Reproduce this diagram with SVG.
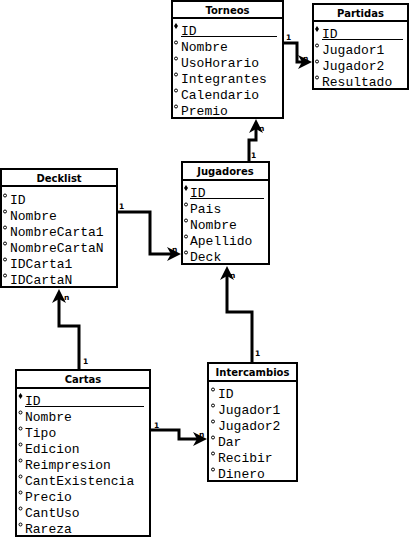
<svg xmlns="http://www.w3.org/2000/svg" width="411" height="537" viewBox="0 0 411 537">
<style>
.box{fill:#fff;stroke:#000;stroke-width:2}
.sep{stroke:#000;stroke-width:2}
.ul{stroke:#000;stroke-width:1}
.title{font-family:"DejaVu Sans",Verdana,sans-serif;font-weight:bold;font-size:10px;fill:#000;text-anchor:middle}
.attr{font-family:"Liberation Mono","Courier New",monospace;font-size:13px;fill:#000}
.b{fill:none;stroke:#000;stroke-width:1}
.k{fill:#000}
.con{fill:none;stroke:#000;stroke-width:3;marker-end:url(#arr)}
.lbl{font-family:"DejaVu Sans",Verdana,sans-serif;font-weight:bold;font-size:7.5px;fill:#000}
</style>
<defs>
<marker id="arr" markerUnits="userSpaceOnUse" markerWidth="15" markerHeight="15" refX="8" refY="7" orient="auto">
<path d="M0,0 L14,7 L0,14 L4,7 Z" fill="#000"/>
</marker>
</defs>

<g id="labels">
<text class="lbl" x="286" y="40">1</text>
<text class="lbl" x="303" y="61">n</text>
<text class="lbl" x="251" y="158">1</text>
<text class="lbl" x="259" y="131">n</text>
<text class="lbl" x="119" y="209">1</text>
<text class="lbl" x="172" y="252">n</text>
<text class="lbl" x="83" y="364">1</text>
<text class="lbl" x="64" y="300">n</text>
<text class="lbl" x="255" y="356">1</text>
<text class="lbl" x="230" y="278">n</text>
<text class="lbl" x="154" y="428">1</text>
<text class="lbl" x="199" y="437">n</text>
</g>

<g id="connectors">
<path class="con" d="M283,43 H297 V62 H306"/>
<path class="con" d="M249,162 V140 H256 V125"/>
<path class="con" d="M117,212 H150 V254 H175"/>
<path class="con" d="M79,370 V326 H59 V295"/>
<path class="con" d="M252,363 V312 H227 V272"/>
<path class="con" d="M150,430 H179 V439 H201"/>
</g>

<g id="torneos">
<rect class="box" x="172" y="1" width="111" height="117"/>
<line class="sep" x1="172" y1="18" x2="283" y2="18"/>
<text class="title" x="227.5" y="14">Torneos</text>
<path class="k" d="M176,23 L178,26 L176,29 L174,26 Z"/>
<text class="attr" x="181" y="35">ID</text>
<line class="ul" x1="181" y1="36.5" x2="277" y2="36.5"/>
<circle class="b" cx="176" cy="42.5" r="1.5"/><text class="attr" x="181" y="51">Nombre</text>
<circle class="b" cx="176" cy="58.5" r="1.5"/><text class="attr" x="181" y="67">UsoHorario</text>
<circle class="b" cx="176" cy="74.5" r="1.5"/><text class="attr" x="181" y="83">Integrantes</text>
<circle class="b" cx="176" cy="90.5" r="1.5"/><text class="attr" x="181" y="99">Calendario</text>
<circle class="b" cx="176" cy="106.5" r="1.5"/><text class="attr" x="181" y="115">Premio</text>
</g>

<g id="partidas">
<rect class="box" x="313" y="4" width="95" height="85"/>
<line class="sep" x1="313" y1="21" x2="408" y2="21"/>
<text class="title" x="360.5" y="17">Partidas</text>
<path class="k" d="M317,26 L319,29 L317,32 L315,29 Z"/>
<text class="attr" x="322" y="38">ID</text>
<line class="ul" x1="322" y1="39.5" x2="403" y2="39.5"/>
<circle class="b" cx="317" cy="45.5" r="1.5"/><text class="attr" x="322" y="54">Jugador1</text>
<circle class="b" cx="317" cy="61.5" r="1.5"/><text class="attr" x="322" y="70">Jugador2</text>
<circle class="b" cx="317" cy="77.5" r="1.5"/><text class="attr" x="322" y="86">Resultado</text>
</g>

<g id="jugadores">
<rect class="box" x="182" y="162" width="87" height="102"/>
<line class="sep" x1="182" y1="180" x2="269" y2="180"/>
<text class="title" x="225.5" y="175">Jugadores</text>
<path class="k" d="M186,185 L188,188 L186,191 L184,188 Z"/>
<text class="attr" x="190" y="197">ID</text>
<line class="ul" x1="190" y1="198.5" x2="264" y2="198.5"/>
<circle class="b" cx="186" cy="204.5" r="1.5"/><text class="attr" x="190" y="213">Pais</text>
<circle class="b" cx="186" cy="220.5" r="1.5"/><text class="attr" x="190" y="229">Nombre</text>
<circle class="b" cx="186" cy="236.5" r="1.5"/><text class="attr" x="190" y="245">Apellido</text>
<circle class="b" cx="186" cy="252.5" r="1.5"/><text class="attr" x="190" y="261">Deck</text>
</g>

<g id="decklist">
<rect class="box" x="1" y="169" width="116" height="118"/>
<line class="sep" x1="1" y1="186" x2="117" y2="186"/>
<text class="title" x="59" y="182">Decklist</text>
<circle class="b" cx="5" cy="195.5" r="1.5"/><text class="attr" x="10" y="204">ID</text>
<circle class="b" cx="5" cy="211.5" r="1.5"/><text class="attr" x="10" y="220">Nombre</text>
<circle class="b" cx="5" cy="227.5" r="1.5"/><text class="attr" x="10" y="236">NombreCarta1</text>
<circle class="b" cx="5" cy="243.5" r="1.5"/><text class="attr" x="10" y="252">NombreCartaN</text>
<circle class="b" cx="5" cy="259.5" r="1.5"/><text class="attr" x="10" y="268">IDCarta1</text>
<circle class="b" cx="5" cy="275.5" r="1.5"/><text class="attr" x="10" y="284">IDCartaN</text>
</g>

<g id="cartas">
<rect class="box" x="16" y="370" width="134" height="166"/>
<line class="sep" x1="16" y1="388" x2="150" y2="388"/>
<text class="title" x="83" y="383">Cartas</text>
<path class="k" d="M20.5,393 L22.5,396 L20.5,399 L18.5,396 Z"/>
<text class="attr" x="25" y="405">ID</text>
<line class="ul" x1="25" y1="406.5" x2="144" y2="406.5"/>
<circle class="b" cx="20.5" cy="412.5" r="1.5"/><text class="attr" x="25" y="421">Nombre</text>
<circle class="b" cx="20.5" cy="428.5" r="1.5"/><text class="attr" x="25" y="437">Tipo</text>
<circle class="b" cx="20.5" cy="444.5" r="1.5"/><text class="attr" x="25" y="453">Edicion</text>
<circle class="b" cx="20.5" cy="460.5" r="1.5"/><text class="attr" x="25" y="469">Reimpresion</text>
<circle class="b" cx="20.5" cy="476.5" r="1.5"/><text class="attr" x="25" y="485">CantExistencia</text>
<circle class="b" cx="20.5" cy="492.5" r="1.5"/><text class="attr" x="25" y="501">Precio</text>
<circle class="b" cx="20.5" cy="508.5" r="1.5"/><text class="attr" x="25" y="517">CantUso</text>
<circle class="b" cx="20.5" cy="524.5" r="1.5"/><text class="attr" x="25" y="533">Rareza</text>
</g>

<g id="intercambios">
<rect class="box" x="208" y="363" width="89" height="118"/>
<line class="sep" x1="208" y1="381" x2="297" y2="381"/>
<text class="title" x="252.5" y="376">Intercambios</text>
<circle class="b" cx="213" cy="389.5" r="1.5"/><text class="attr" x="218" y="398">ID</text>
<circle class="b" cx="213" cy="405.5" r="1.5"/><text class="attr" x="218" y="414">Jugador1</text>
<circle class="b" cx="213" cy="421.5" r="1.5"/><text class="attr" x="218" y="430">Jugador2</text>
<circle class="b" cx="213" cy="437.5" r="1.5"/><text class="attr" x="218" y="446">Dar</text>
<circle class="b" cx="213" cy="453.5" r="1.5"/><text class="attr" x="218" y="462">Recibir</text>
<circle class="b" cx="213" cy="469.5" r="1.5"/><text class="attr" x="218" y="478">Dinero</text>
</g>
</svg>
